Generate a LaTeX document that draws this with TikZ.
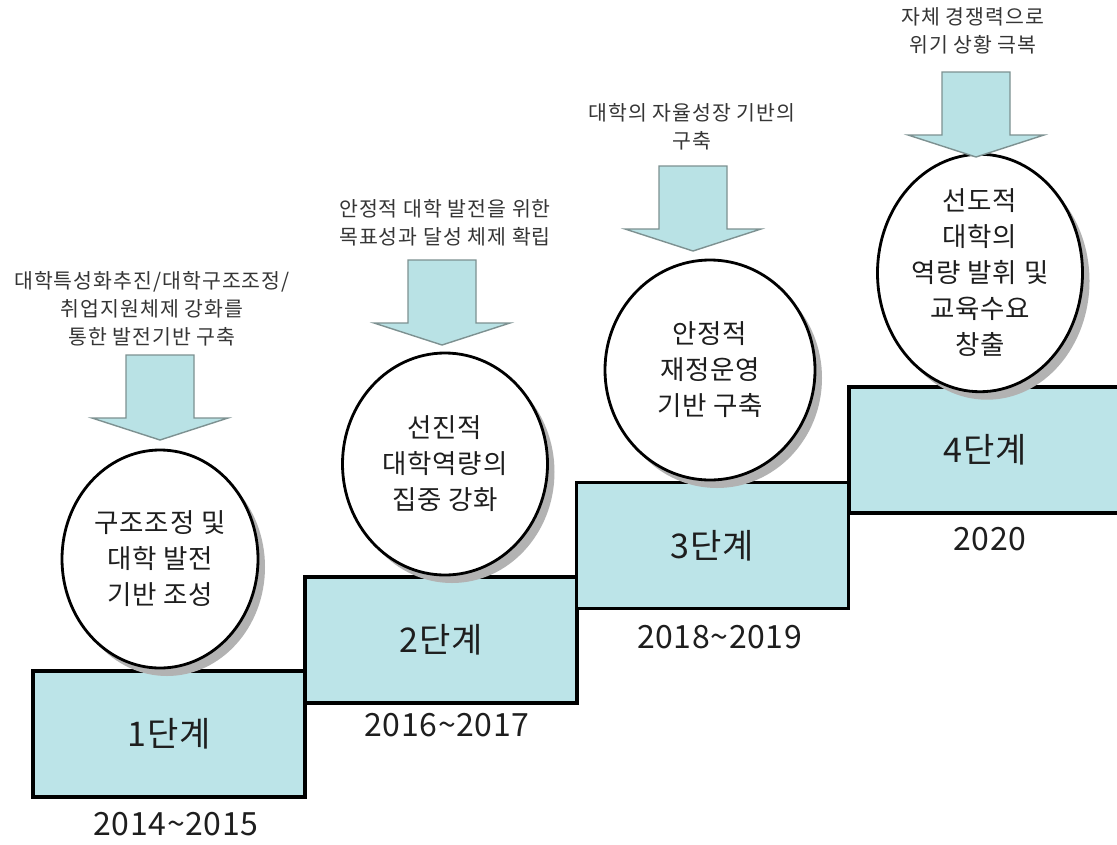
\documentclass[tikz,border=0pt]{standalone}
\usepackage{fontspec}
\newfontfamily\kr{Noto Sans CJK KR}
\usetikzlibrary{calc,shapes.geometric,shadows}
\definecolor{stepfill}{RGB}{188,228,232}
\definecolor{arrowfill}{RGB}{185,226,229}
\definecolor{arrowline}{RGB}{125,145,145}
\definecolor{shadegray}{RGB}{178,178,178}
\definecolor{txt}{RGB}{30,30,30}
\tikzset{
  stepbox/.style={draw=black, line width=3.6pt, fill=stepfill, minimum width=272pt,
    minimum height=126pt, inner sep=0pt, text=txt,
    font=\kr\fontsize{34}{38}\selectfont\addfontfeature{LetterSpace=3}},
  goal/.style={ellipse, draw=black, line width=2.8pt, fill=white, inner sep=0pt,
    align=center, text=txt,
    font=\kr\fontsize{26.5}{36}\selectfont\addfontfeature{LetterSpace=3},
    drop shadow={shadow xshift=7pt, shadow yshift=-8pt, fill=shadegray, opacity=1}},
  year/.style={inner sep=0pt, text=txt,
    font=\kr\fontsize{32}{34}\selectfont\addfontfeature{LetterSpace=2}},
  note/.style={inner sep=0pt, align=center, text=txt!90,
    font=\kr\fontsize{20.5}{28}\selectfont\addfontfeature{LetterSpace=5}},
  blockarrow/.style={draw=arrowline, line width=1.4pt, fill=arrowfill, line join=miter}
}
\begin{document}
\begin{tikzpicture}[x=1pt,y=-1pt]
\useasboundingbox (0,0) rectangle (1117,844);
\clip (0,0) rectangle (1117,844);
\fill[white] (0,0) rectangle (1117,844);

% step boxes
\node[stepbox] (b1) at (169,734) {1단계};
\node[stepbox] (b2) at (441,640) {2단계};
\node[stepbox] (b3) at (712.5,545.5) {3단계};
\node[stepbox] (b4) at (985,450) {4단계};

% years
\node[year] (y1) at ($(b1.south)+(7,25)$) {2014\textasciitilde2015};
\node[year] (y2) at ($(b2.south)+(6,20)$) {2016\textasciitilde2017};
\node[year] (y3) at ($(b3.south)+(7,27)$) {2018\textasciitilde2019};
\node[year] (y4) at ($(b4.south)+(5,24)$) {2020};

% goal circles
\node[goal, minimum width=196pt, minimum height=218pt] (c1) at (160,559)
  {구조조정 및\\대학 발전\\기반 조성};
\node[goal, minimum width=205pt, minimum height=222pt] (c2) at (445,464)
  {선진적\\대학역량의\\집중 강화};
\node[goal, minimum width=210pt, minimum height=220pt] (c3) at (710,370)
  {안정적\\재정운영\\기반 구축};
\node[goal, minimum width=205pt, minimum height=226pt] (c4) at (980,273)
  {선도적\\대학의\\역량 발휘 및\\교육수요\\창출};

% block arrows (tips)
\coordinate (a1) at (160,440);
\coordinate (a2) at (442,345);
\coordinate (a3) at (693,251);
\coordinate (a4) at (976,157);
\foreach \t in {a1,a2,a3,a4}{
  \draw[blockarrow, shift={(\t)}] (-34,-85) -- (34,-85) -- (34,-22) -- (68,-22)
    -- (0,0) -- (-68,-22) -- (-34,-22) -- cycle;
}

% notes above arrows
\node[note] (n1) at (152,309) {대학특성화추진/대학구조조정/\\취업지원체제 강화를\\통한 발전기반 구축};
\node[note] (n2) at (445,223) {안정적 대학 발전을 위한\\목표성과 달성 체제 확립};
\node[note] (n3) at (692,127) {대학의 자율성장 기반의\\구축};
\node[note] (n4) at (973,31) {자체 경쟁력으로\\위기 상황 극복};
\end{tikzpicture}
\end{document}
